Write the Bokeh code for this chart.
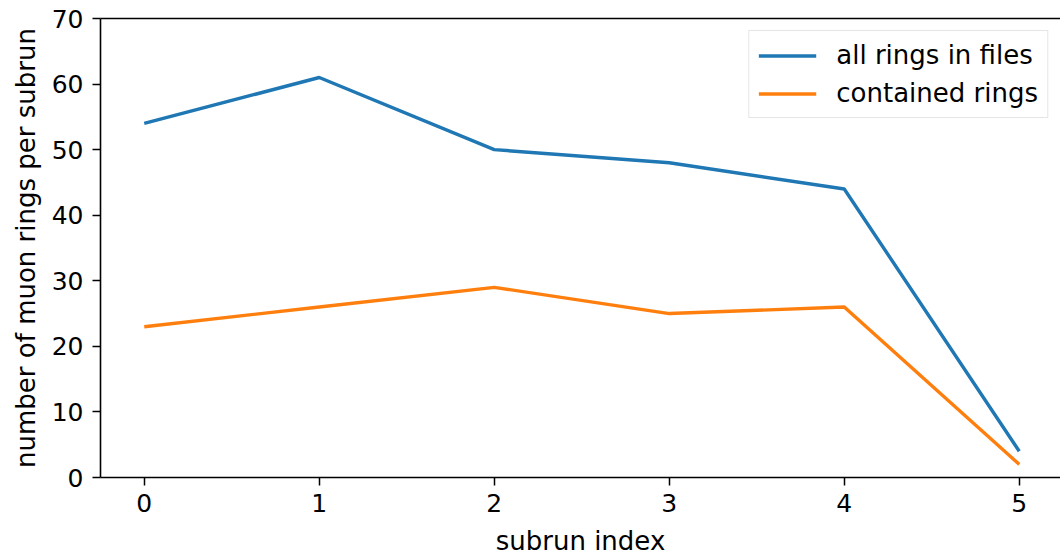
from bokeh.plotting import figure
from bokeh.models import Range1d, FixedTicker, Legend, LegendItem, LinearAxis
from bokeh.embed import file_html
from bokeh.resources import INLINE

subrun = [0, 1, 2, 3, 4, 5]
all_rings = [54, 61, 50, 48, 44, 4]
contained_rings = [23, 26, 29, 25, 26, 2]
x_ticks = [0, 1, 2, 3, 4, 5]
y_ticks = [0, 10, 20, 30, 40, 50, 60, 70]

FONT = "DejaVu Sans"

p = figure(width=1060, height=558, output_backend="svg", toolbar_location=None,
           x_range=Range1d(-0.25, 5.2357), y_range=Range1d(0, 70),
           min_border_left=100, min_border_right=0, min_border_top=18, min_border_bottom=80)
p.outline_line_color = None
p.xgrid.visible = False
p.ygrid.visible = False
p.background_fill_color = "white"

r1 = p.line(subrun, all_rings, line_color="#1f77b4", line_width=3.4)
r2 = p.line(subrun, contained_rings, line_color="#ff7f0e", line_width=3.4)

xaxis = p.below[0]
yaxis = p.left[0]

for ax, ticks in ((xaxis, x_ticks), (yaxis, y_ticks)):
    ax.ticker = FixedTicker(ticks=ticks)
    ax.minor_tick_line_color = None
    ax.major_tick_in = 0
    ax.major_tick_out = 8
    ax.major_tick_line_width = 1.5
    ax.axis_line_width = 1.6
    ax.major_label_text_font = FONT
    ax.major_label_text_font_size = "25px"
    ax.major_label_text_color = "black"
    ax.axis_label_text_font = FONT
    ax.axis_label_text_font_size = "26px"
    ax.axis_label_text_font_style = "normal"
    ax.axis_label_text_color = "black"

xaxis.axis_label = "subrun index"
yaxis.axis_label = "number of muon rings per subrun"
xaxis.major_label_standoff = 8
xaxis.axis_label_standoff = 11
yaxis.major_label_standoff = 9
yaxis.axis_label_standoff = 8

top_axis = LinearAxis(ticker=FixedTicker(ticks=[]), axis_line_color="black", axis_line_width=1.6,
                      major_tick_line_color=None, minor_tick_line_color=None,
                      major_tick_in=0, major_tick_out=0,
                      major_label_text_font_size="0px", major_label_standoff=0)
p.add_layout(top_axis, "above")

legend = Legend(items=[LegendItem(label="all rings in files", renderers=[r1]),
                       LegendItem(label="contained rings", renderers=[r2])],
                location="top_right")
legend.label_text_font = FONT
legend.label_text_font_size = "26px"
legend.label_text_color = "black"
legend.glyph_width = 58
legend.label_standoff = 20
legend.label_height = 27
legend.glyph_height = 27
legend.spacing = 8
legend.padding = 9
legend.margin = 12
legend.border_line_color = "#cccccc"
legend.border_line_width = 1.5
legend.background_fill_alpha = 0.8
p.add_layout(legend)

open("out.html", "w").write(file_html(p, INLINE))
